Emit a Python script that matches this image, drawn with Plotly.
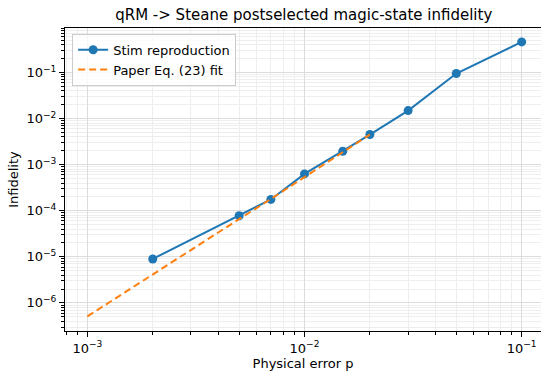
import plotly.graph_objects as go

# Data
stim_p = [0.002, 0.005, 0.007, 0.01, 0.015, 0.02, 0.03, 0.05, 0.1]
stim_inf = [9.0e-6, 7.8e-5, 1.76e-4, 6.3e-4, 1.95e-3, 4.5e-3, 1.49e-2, 9.5e-2, 4.6e-1]

fit_p = [0.001, 0.002, 0.005, 0.007, 0.01, 0.015, 0.02]
fit_inf = [5.1e-7, 4.2e-6, 6.6e-5, 1.8e-4, 5.4e-4, 1.85e-3, 4.5e-3]

x_ticks = [1e-3, 1e-2, 1e-1]
x_ticktext = ["10<sup>−3</sup>", "10<sup>−2</sup>", "10<sup>−1</sup>"]
y_ticks = [1e-6, 1e-5, 1e-4, 1e-3, 1e-2, 1e-1]
y_ticktext = ["10<sup>−6</sup>", "10<sup>−5</sup>", "10<sup>−4</sup>",
              "10<sup>−3</sup>", "10<sup>−2</sup>", "10<sup>−1</sup>"]

FONT = "DejaVu Sans"

fig = go.Figure()
fig.add_trace(go.Scatter(
    x=stim_p, y=stim_inf, mode="lines+markers", name="Stim reproduction",
    line=dict(color="#1f77b4", width=2),
    marker=dict(color="#1f77b4", size=9),
))
fig.add_trace(go.Scatter(
    x=fit_p, y=fit_inf, mode="lines", name="Paper Eq. (23) fit",
    line=dict(color="#ff7f0e", width=2, dash="7px,4px"),
))

axis_common = dict(
    type="log",
    showline=True, linecolor="black", linewidth=1,
    ticks="outside", ticklen=5, tickwidth=1, tickcolor="black",
    showgrid=True, gridcolor="#dcdcdc", gridwidth=1,
    zeroline=False,
    tickfont=dict(family=FONT, size=13, color="black"),
    minor=dict(dtick="D1", ticks="outside", ticklen=3, tickwidth=0.8,
               tickcolor="black", showgrid=True, gridcolor="#eeeeee", gridwidth=1),
)

fig.update_layout(
    width=541, height=372,
    margin=dict(l=65, r=0, t=28, b=41),
    paper_bgcolor="white", plot_bgcolor="white",
    font=dict(family=FONT, size=13, color="black"),
    title=dict(text="qRM -> Steane postselected magic-state infidelity",
               x=0.5615, xanchor="center", y=0.96, yanchor="middle",
               font=dict(family=FONT, size=15, color="black")),
    xaxis=dict(axis_common, range=[-3.103, -0.911], tickvals=x_ticks, ticktext=x_ticktext,
               mirror=True,
               title=dict(text="Physical error p", standoff=4,
                          font=dict(family=FONT, size=13))),
    yaxis=dict(axis_common, range=[-6.609, -0.035], tickvals=y_ticks, ticktext=y_ticktext,
               mirror=False,
               title=dict(text="Infidelity", standoff=4,
                          font=dict(family=FONT, size=13))),
    legend=dict(x=0.015, y=0.981, xanchor="left", yanchor="top",
                bgcolor="rgba(255,255,255,0.8)", bordercolor="#cccccc", borderwidth=1,
                font=dict(family=FONT, size=13)),
    showlegend=True,
)

fig.write_html("out.html")
